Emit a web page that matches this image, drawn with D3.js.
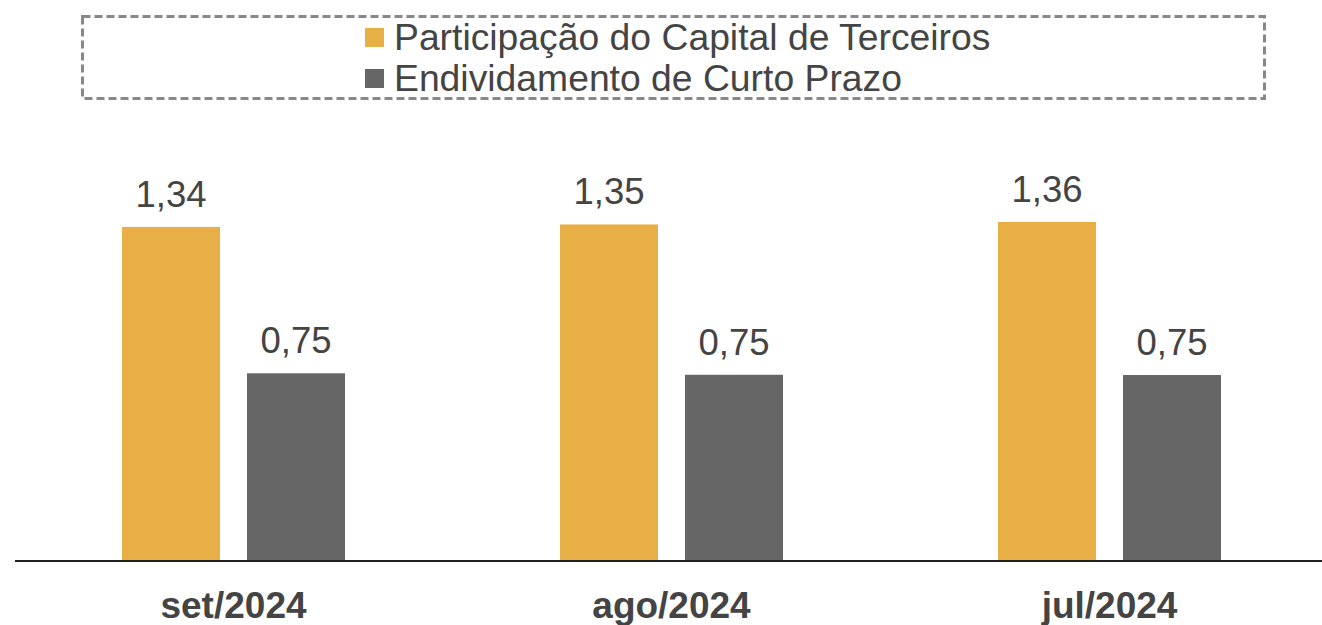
<!DOCTYPE html>
<html>
<head>
<meta charset="utf-8">
<script src="https://cdn.jsdelivr.net/npm/d3@7"></script>
<style>
  body { margin: 0; background: #fff; }
  svg { display: block; font-family: Arial, "Liberation Sans", sans-serif; }
</style>
</head>
<body>
<script>
// data
const categories = ['set/2024', 'ago/2024', 'jul/2024']
const seriesNames = ['Participação do Capital de Terceiros', 'Endividamento de Curto Prazo']
const participacao = [1.34, 1.35, 1.36]
const endividamento = [0.753, 0.747, 0.746]
const colors = ['#E9AF47', '#666666']

const w = 1322
const h = 625
const baseY = 561

const svg = d3.select('body')
  .append('svg')
  .attr('width', w)
  .attr('height', h)

// scales
const x = d3.scaleBand()
  .domain(categories)
  .range([14.5, 1328.5])

const xInner = d3.scaleBand()
  .domain(seriesNames)
  .range([107.5, 330.5])
  .paddingInner(0.216)

const y = d3.scaleLinear()
  .domain([0, 1])
  .range([baseY, baseY - 249.3])

const rows = categories.map((c, i) => ({
  cat: c,
  vals: [participacao[i], endividamento[i]]
}))

// legend box
svg.append('rect')
  .attr('x', 82.5)
  .attr('y', 16.5)
  .attr('width', 1182)
  .attr('height', 82)
  .attr('fill', 'none')
  .attr('stroke', '#888')
  .attr('stroke-width', 3)
  .attr('stroke-dasharray', '8,4')

const legend = svg.selectAll('.legend-item')
  .data(seriesNames)
  .enter()
  .append('g')
  .attr('class', 'legend-item')
  .attr('transform', (d, i) => 'translate(365,' + (28 + i * 41) + ')')

legend.append('rect')
  .attr('width', 19)
  .attr('height', 19)
  .attr('fill', (d, i) => colors[i])

legend.append('text')
  .attr('x', 29)
  .attr('y', 22)
  .attr('fill', '#444')
  .style('font-size', '37.3px')
  .text(d => d)

// bars
const groups = svg.selectAll('.group')
  .data(rows)
  .enter()
  .append('g')
  .attr('class', 'group')
  .attr('transform', d => 'translate(' + x(d.cat) + ',0)')

groups.selectAll('rect')
  .data(d => d.vals.map((v, i) => ({ name: seriesNames[i], v: v, i: i })))
  .enter()
  .append('rect')
  .attr('x', d => xInner(d.name))
  .attr('y', d => y(d.v))
  .attr('width', xInner.bandwidth())
  .attr('height', d => baseY - y(d.v))
  .attr('fill', d => colors[d.i])

groups.selectAll('.val')
  .data(d => d.vals.map((v, i) => ({ name: seriesNames[i], v: v })))
  .enter()
  .append('text')
  .attr('class', 'val')
  .attr('x', d => xInner(d.name) + xInner.bandwidth() / 2)
  .attr('y', d => y(d.v) - 20)
  .attr('text-anchor', 'middle')
  .attr('fill', '#444')
  .style('font-size', '36.5px')
  .text(d => d3.format('.2f')(d.v).replace('.', ','))

// axis
const axis = svg.append('g')
  .attr('transform', 'translate(0,' + baseY + ')')
  .call(d3.axisBottom(x).tickSize(0).tickPadding(0))

axis.select('.domain')
  .attr('d', 'M15,0H1322')
  .attr('stroke', '#222')
  .attr('stroke-width', 2)

axis.selectAll('.tick text')
  .attr('dy', 0)
  .attr('y', 57)
  .attr('fill', '#444')
  .style('font-family', 'Arial, "Liberation Sans", sans-serif')
  .style('font-size', '37px')
  .style('font-weight', 'bold')
</script>
</body>
</html>
